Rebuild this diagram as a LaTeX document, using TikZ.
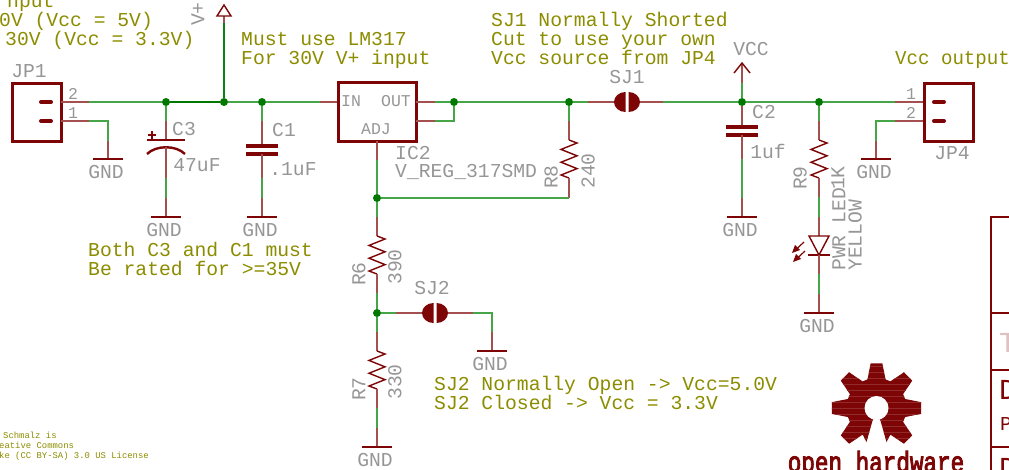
\documentclass[tikz,border=0pt]{standalone}
\usepackage{fontspec}
\setmainfont{Liberation Mono}
\newfontfamily\logofont[FakeBold=3.5]{Liberation Mono}
\usepackage{tikz}
\usetikzlibrary{positioning}
\definecolor{netgreen}{RGB}{70,165,70}
\definecolor{junctgreen}{RGB}{0,120,0}
\definecolor{symred}{RGB}{125,5,5}
\definecolor{pinred}{RGB}{165,80,80}
\definecolor{notecol}{RGB}{140,140,0}
\definecolor{labelgray}{RGB}{150,150,150}
\tikzset{
  net/.style={draw=netgreen,line width=1.3pt},
  pin/.style={draw=pinred,line width=1.3pt},
  body/.style={draw=symred,line width=1.4pt},
  heavy/.style={draw=symred,line width=3pt},
  dot/.style={circle,fill=junctgreen,inner sep=0pt,minimum size=8pt},
  pt/.style={inner sep=0pt,minimum size=0pt},
  note/.style={text=notecol,font=\fontsize{19.7}{19.7}\selectfont,anchor=base west,inner sep=0pt},
  tiny/.style={text=notecol,font=\fontsize{8.9}{9}\selectfont,anchor=base west,inner sep=0pt},
  lbl/.style={text=labelgray,font=\fontsize{19.7}{19.7}\selectfont,inner sep=0pt},
  pinlbl/.style={text=labelgray,font=\fontsize{16.5}{16.5}\selectfont,inner sep=0pt},
  gndbar/.style={draw=symred,line width=1.4pt},
  block/.style={font=\fontsize{#1}{#1}\selectfont,anchor=base west,inner sep=0pt},
}
\newcommand{\gnd}[2]{%
  \draw[gndbar] ([xshift=-15pt]#1.center) -- ([xshift=15pt]#1.center);
  \node[lbl] (#2) [below=13pt of #1,xshift=-2pt] {GND};}
\newcommand{\zigzag}[1]{%
  \draw[body] (#1.center) -- ++(8,3) -- ++(-16,6.4) -- ++(16,6.4) -- ++(-16,6.4) -- ++(16,6.4) -- ++(-16,6.4) -- ++(8,3);}
\newcommand{\jumper}[1]{%
  \fill[symred] ([xshift=-1.5pt,yshift=10pt]#1.center) arc (-90:-270:11.5 and 10) -- cycle;
  \fill[symred] ([xshift=1.5pt,yshift=10pt]#1.center) arc (-90:90:11.5 and 10) -- cycle;}
\newcommand{\gearpath}{(-3.5,11) -- (-10,34) \foreach \t in {135,180,225,270,315,0,45} {
    -- (\t-17.5:30) -- (\t-7.5:45) -- (\t+7.5:45) -- (\t+17.5:30)} -- (10,34) -- (3.5,11) -- cycle}
\begin{document}
\begin{tikzpicture}[x=1pt,y=-1pt,node distance=1cm,on grid]
  \useasboundingbox (0,0) rectangle (1009,469);
  % top left notes
  \node[note] (in0) at (7,7) {nput};
  \node[note] (in1) at (-1,26) {0V (Vcc = 5V)};
  \node[note] (in2) at (5,45) {30V (Vcc = 3.3V)};
  \node[note] (mu1) at (241,45) {Must use LM317};
  \node[note] (mu2) at (241,64) {For 30V V+ input};
  \node[note] (sja) at (491,26) {SJ1 Normally Shorted};
  \node[note] (sjb) at (491,45) {Cut to use your own};
  \node[note] (sjc) at (491,64) {Vcc source from JP4};
  \node[note,xscale=.97] (vo) at (895,64) {Vcc output};
  \node[note] (bo1) at (88,256) {Both C3 and C1 must};
  \node[note] (bo2) at (88,275) {Be rated for >=35V};
  \node[note] (sj2a) at (434,390) {SJ2 Normally Open -> Vcc=5.0V};
  \node[note] (sj2b) at (434,409) {SJ2 Closed -> Vcc = 3.3V};
  \node[tiny] (li1) at (3,438) {Schmalz is};
  \node[tiny] (li2) at (-1,448) {eative Commons};
  \node[tiny] (li3) at (-1,458) {ke (CC BY-SA) 3.0 US License};

  % junctions on the input rail
  \node[dot] (j1) at (166,102) {};
  \node[dot] (j2) at (224,102) {};
  \node[dot] (j3) at (262,102) {};
  \node[dot] (j4) at (454,102) {};
  \node[dot] (j5) at (569,102) {};
  \node[dot] (j6) at (742,102) {};
  \node[dot] (j7) at (819,102) {};
  \node[dot] (j8) at (377,198) {};
  \node[dot] (j9) at (377,313) {};

  % JP1
  \node[pt] (jp1a) at (61,102) {};
  \node[pt] (jp1b) at (61,121) {};
  \draw[heavy] (12.5,83) rectangle (61,141);
  \draw[symred,line width=4pt,line cap=round] (41,102) -- (51,102) (41,121) -- (51,121);
  \node[lbl] (jp1) at (29,71) {JP1};
  \node[pinlbl] (jp1n2) at (73,94) {2};
  \node[pinlbl] (jp1n1) at (73,113) {1};
  \coordinate (a1) at (89,102);
  \coordinate (a2) at (89,121);
  \coordinate (a3) at (108,121);
  \coordinate (a4) at (108,141);
  \node[pt] (g1) at (108,159) {};
  \draw[pin] (jp1a) -- (a1);
  \draw[pin] (jp1b) -- (a2);
  \draw[net] (a2) -- (a3) -- (a4);
  \draw[pin] (a4) -- (g1);
  \gnd{g1}{g1l}

  % rail to IC2
  \coordinate (a5) at (320,102);
  \node[pt] (ic2in) at (338,102) {};
  \draw[net] (a1) -- (j1);
  \draw[net,draw=junctgreen] (j1) -- (j2);
  \draw[net] (j2) -- (j3) -- (a5);
  \draw[pin] (a5) -- (ic2in);

  % V+
  \coordinate (v1) at (224,23);
  \node[pt] (v2) at (224,16) {};
  \draw[net,draw=junctgreen!80!netgreen] (j2) -- (v1);
  \draw[pin] (v1) -- (v2);
  \draw[body] (217,16) -- (224,5) -- (231,16) -- cycle;
  \node[lbl,rotate=90] (vp) at (198,14) {V+};

  % C3
  \coordinate (c3a) at (166,121);
  \node[pt] (c3t) at (166,140) {};
  \node[pt] (c3b) at (166,147) {};
  \coordinate (c3c) at (166,178);
  \coordinate (c3d) at (166,198);
  \node[pt] (g2) at (166,217) {};
  \draw[net] (j1) -- (c3a);
  \draw[pin] (c3a) -- (c3t);
  \draw[symred,line width=1.4pt] (147,140) -- (185,140);
  \draw[symred,line width=2.4pt] (147,154) .. controls (156,145) and (176,145) .. (185,154);
  \draw[symred,line width=1.6pt] (148,135) -- (156,135) (152,131) -- (152,139);
  \draw[pin] (c3b) -- (c3c);
  \draw[net] (c3c) -- (c3d);
  \draw[pin] (c3d) -- (g2);
  \gnd{g2}{g2l}
  \node[lbl] (c3) at (184,129) {C3};
  \node[lbl] (c3v) at (197,165) {47uF};

  % C1
  \coordinate (c1a) at (262,121);
  \node[pt] (c1t) at (262,146) {};
  \node[pt] (c1b) at (262,154) {};
  \coordinate (c1c) at (262,178);
  \coordinate (c1d) at (262,198);
  \node[pt] (g3) at (262,217) {};
  \draw[net] (j3) -- (c1a);
  \draw[pin] (c1a) -- (c1t);
  \draw[symred,line width=3.4pt] (246,146) -- (278,146) (246,154) -- (278,154);
  \draw[pin] (c1b) -- (c1c);
  \draw[net] (c1c) -- (c1d);
  \draw[pin] (c1d) -- (g3);
  \gnd{g3}{g3l}
  \node[lbl] (c1) at (284,130) {C1};
  \node[lbl] (c1v) at (293,169) {.1uF};

  % IC2
  \draw[heavy] (338,82.5) rectangle (416,141);
  \node[pinlbl] (icin) at (351,101) {IN};
  \node[pinlbl] (icout) at (396,101) {OUT};
  \node[pinlbl] (icadj) at (376,129) {ADJ};
  \node[lbl,anchor=west] (ic2) at (395,153) {IC2};
  \node[lbl,anchor=west] (ic2v) at (395,172) {V\_REG\_317SMD};
  \node[pt] (out1) at (416,102) {};
  \node[pt] (out2) at (416,121) {};
  \node[pt] (adj) at (377,141) {};
  \coordinate (o1) at (435,102);
  \coordinate (o2) at (435,121);
  \coordinate (o3) at (454,121);
  \draw[pin] (out1) -- (o1);
  \draw[pin] (out2) -- (o2);
  \draw[net] (o1) -- (j4);
  \draw[net] (o2) -- (o3) -- (j4);
  \coordinate (adj1) at (377,160);
  \draw[pin] (adj) -- (adj1);
  \draw[net] (adj1) -- (j8);

  % SJ1
  \coordinate (s1a) at (588,102);
  \node[pt] (sj1l) at (616,102) {};
  \node[pt] (sj1c) at (627,102) {};
  \node[pt] (sj1r) at (638,102) {};
  \coordinate (s1b) at (663,102);
  \draw[net] (j4) -- (j5) -- (s1a);
  \draw[pin] (s1a) -- (sj1l);
  \draw[pin] (sj1r) -- (s1b);
  \draw[net] (s1b) -- (j6) -- (j7);
  \jumper{sj1c}
  \node[lbl] (sj1n) at (627,77) {SJ1};

  % R8
  \coordinate (r8a) at (569,121);
  \node[pt] (r8t) at (569,140) {};
  \node[pt] (r8b) at (569,178) {};
  \coordinate (r8c) at (569,198);
  \draw[net] (j5) -- (r8a);
  \draw[pin] (r8a) -- (r8t);
  \zigzag{r8t}
  \draw[pin] (r8b) -- (r8c);
  \draw[net] (r8c) -- (j8);
  \node[lbl,rotate=90] (r8) at (551,177) {R8};
  \node[lbl,rotate=90] (r8v) at (588,171) {240};

  % R6
  \coordinate (r6a) at (377,217);
  \node[pt] (r6t) at (377,236) {};
  \node[pt] (r6b) at (377,274) {};
  \coordinate (r6c) at (377,293);
  \draw[net] (j8) -- (r6a);
  \draw[pin] (r6a) -- (r6t);
  \zigzag{r6t}
  \draw[pin] (r6b) -- (r6c);
  \draw[net] (r6c) -- (j9);
  \node[lbl,rotate=90] (r6) at (359,274) {R6};
  \node[lbl,rotate=90] (r6v) at (395,267) {390};

  % R7
  \coordinate (r7a) at (377,332);
  \node[pt] (r7t) at (377,351) {};
  \node[pt] (r7b) at (377,389) {};
  \coordinate (r7c) at (377,408);
  \coordinate (r7d) at (377,428);
  \node[pt] (g4) at (377,447) {};
  \draw[net] (j9) -- (r7a);
  \draw[pin] (r7a) -- (r7t);
  \zigzag{r7t}
  \draw[pin] (r7b) -- (r7c);
  \draw[net] (r7c) -- (r7d);
  \draw[pin] (r7d) -- (g4);
  \gnd{g4}{g4l}
  \node[lbl] (r7) [rotate=90] at (359,389) {R7};
  \node[lbl] (r7v) [rotate=90] at (395,382) {330};

  % SJ2
  \coordinate (s2a) at (396,313);
  \node[pt] (sj2l) at (424,313) {};
  \node[pt] (sj2c) at (435,313) {};
  \node[pt] (sj2r) at (446,313) {};
  \coordinate (s2b) at (473,313);
  \coordinate (s2c) at (492,313);
  \coordinate (s2d) at (492,332);
  \node[pt] (g5) at (492,351) {};
  \draw[net] (j9) -- (s2a);
  \draw[pin] (s2a) -- (sj2l);
  \draw[pin] (sj2r) -- (s2b);
  \draw[net] (s2b) -- (s2c) -- (s2d);
  \draw[pin] (s2d) -- (g5);
  \gnd{g5}{g5l}
  \jumper{sj2c}
  \node[lbl] (sj2n) at (432,288) {SJ2};

  % VCC
  \coordinate (v3) at (742,83);
  \node[pt] (v4) at (742,63) {};
  \draw[net] (j6) -- (v3);
  \draw[pin] (v3) -- (v4);
  \draw[body] (734,73) -- (742,63) -- (750,73);
  \node[lbl] (vcc) at (751,49) {VCC};

  % C2
  \node[pt] (c2t) at (742,127) {};
  \node[pt] (c2b) at (742,135) {};
  \coordinate (c2c) at (742,159);
  \coordinate (c2d) at (742,198);
  \node[pt] (g6) at (742,217) {};
  \draw[pin] (j6) -- (c2t);
  \draw[symred,line width=3.4pt] (726,127) -- (758,127) (726,135) -- (758,135);
  \draw[pin] (c2b) -- (c2c);
  \draw[net] (c2c) -- (c2d);
  \draw[pin] (c2d) -- (g6);
  \gnd{g6}{g6l}
  \node[lbl] (c2) at (764,112) {C2};
  \node[lbl] (c2v) at (768,151) {1uf};

  % R9 and LED
  \coordinate (r9a) at (819,121);
  \node[pt] (r9t) at (819,140) {};
  \node[pt] (r9b) at (819,178) {};
  \coordinate (r9c) at (819,197);
  \coordinate (r9d) at (819,217);
  \node[pt] (ledt) at (819,236) {};
  \node[pt] (ledb) at (819,255) {};
  \coordinate (r9e) at (819,274);
  \coordinate (r9f) at (819,294);
  \node[pt] (g7) at (819,313) {};
  \draw[net] (j7) -- (r9a);
  \draw[pin] (r9a) -- (r9t);
  \zigzag{r9t}
  \draw[pin] (r9b) -- (r9c);
  \draw[net] (r9c) -- (r9d);
  \draw[pin] (r9d) -- (ledt);
  \draw[body] (809,236) -- (829,236) -- (819,255) -- cycle;
  \draw[body] (808,255) -- (830,255);
  \draw[pin] (ledb) -- (r9e);
  \draw[net] (r9e) -- (r9f);
  \draw[pin] (r9f) -- (g7);
  \gnd{g7}{g7l}
  \draw[symred,line width=1.2pt] (804,242) -- (796,249.5);
  \fill[symred] (792,253) -- (795,245) -- (800,250) -- cycle;
  \draw[symred,line width=1.2pt] (805,251) -- (797,258.5);
  \fill[symred] (793,262) -- (796,254) -- (801,259) -- cycle;
  \node[lbl,rotate=90] (r9) at (800,178) {R9};
  \node[lbl,rotate=90] (r9v) at (838,178) {1K};
  \node[lbl,rotate=90,anchor=west] (led) at (839,271) {PWR LED};
  \node[lbl,rotate=90,anchor=west] (ledv) at (855,271) {YELLOW};

  % JP4
  \coordinate (o4) at (895,102);
  \coordinate (o5) at (895,121);
  \coordinate (o6) at (876,121);
  \coordinate (o7) at (876,141);
  \node[pt] (jp4a) at (924,102) {};
  \node[pt] (jp4b) at (924,121) {};
  \node[pt] (g8) at (876,159) {};
  \draw[net] (j7) -- (o4);
  \draw[pin] (o4) -- (jp4a);
  \draw[pin] (o5) -- (jp4b);
  \draw[net] (o5) -- (o6) -- (o7);
  \draw[pin] (o7) -- (g8);
  \gnd{g8}{g8l}
  \draw[heavy] (924,83) rectangle (973,141);
  \draw[symred,line width=4pt,line cap=round] (934,102) -- (944,102) (934,121) -- (944,121);
  \node[lbl] (jp4) at (952,153) {JP4};
  \node[pinlbl] (jp4n1) at (911,94) {1};
  \node[pinlbl] (jp4n2) at (911,113) {2};

  % title block
  \draw[body] (1010,217) -- (991,217) -- (991,470);
  \draw[body] (991,313) -- (1010,313) (991,370) -- (1010,370) (991,447) -- (1010,447);
  \node[block=29,text=symred!25] (tbt) at (999,352) {T};
  \node[block=29,text=symred] (tbd) at (999,399) {D};
  \node[block=19.7,text=symred] (tbp) at (1000,430) {P};
  \node[block=29,text=symred] (tbe) at (999,477) {D};

  % gear
  \begin{scope}[shift={(876.5,408)}]
    \fill[symred] \gearpath;
    \begin{scope}
      \clip \gearpath;
      \foreach \yy in {-42,-36,...,42} {
        \draw[symred!85!white,line width=.5pt] (-46,\yy) -- (46,\yy);
      }
    \end{scope}
    \fill[white] (0,0) circle (12);
  \end{scope}
  \node[text=symred,font=\fontsize{29}{29}\logofont,inner sep=0pt,anchor=base,xscale=.78] (oh) at (876,472) {open hardware};
\end{tikzpicture}
\end{document}
